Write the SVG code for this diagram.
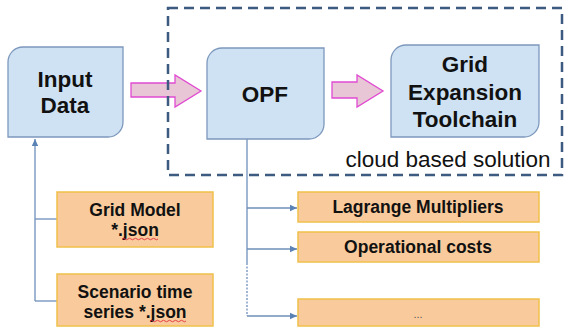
<svg xmlns="http://www.w3.org/2000/svg" width="564" height="329" viewBox="0 0 564 329">
<style>
.blue{fill:#cfe2f3;stroke:#7d98bd;stroke-width:1.3}
.orng{fill:#f9cb9c;stroke:#efc04a;stroke-width:1.5}
.big{font-family:"Liberation Sans",Arial,sans-serif;font-weight:bold;font-size:22.5px;fill:#111;text-anchor:middle}
.mid{font-family:"Liberation Sans",Arial,sans-serif;font-weight:bold;font-size:17.5px;fill:#111;text-anchor:middle}
.con{fill:none;stroke:#6f8fba;stroke-width:1.3}
.pink{fill:#e8c6d6;stroke:#e04ad2;stroke-width:1.3}
.sq{fill:none;stroke:#e0303a;stroke-width:0.9}
</style>
<defs>
<marker id="ah" markerWidth="8" markerHeight="8" refX="7" refY="4" orient="auto" markerUnits="userSpaceOnUse">
<path d="M0,0.8 L7,4 L0,7.2 Z" fill="#5b82b5"/>
</marker>
</defs>
<rect width="564" height="329" fill="#fff"/>

<g id="connectors">
<path class="con" d="M35,301 V139" marker-end="url(#ah)"/>
<path class="con" d="M35,219 H57"/>
<path class="con" d="M35,301 H57"/>
<path class="con" d="M247,139 V263"/>
<path class="con" d="M247,263 V316" stroke-dasharray="2,1.5" stroke="#9fb3cc"/>
<path class="con" d="M247,208 H297" marker-end="url(#ah)"/>
<path class="con" d="M247,249 H297" marker-end="url(#ah)"/>
<path class="con" d="M247,316 H297" marker-end="url(#ah)"/>
<polygon class="pink" points="131,83 175,83 175,75 201,91 175,107 175,97 131,97"/>
<polygon class="pink" points="332,82 357,82 357,75 383,91 357,107 357,98 332,98"/>
</g>

<g id="cloud">
<rect x="168" y="8" width="394" height="167" fill="none" stroke="#3d5a80" stroke-width="2.5" stroke-dasharray="10,6"/>
<text x="448" y="167" font-family="Liberation Sans,Arial,sans-serif" font-size="22.5" fill="#111" text-anchor="middle">cloud based solution</text>
</g>

<g id="input-data">
<path class="blue" d="M23,47 H123 V122 A15,15 0 0 1 108,137 H8 V62 A15,15 0 0 1 23,47 Z"/>
<text class="big" x="65" y="87">Input</text>
<text class="big" x="65" y="113">Data</text>
</g>

<g id="opf">
<path class="blue" d="M222,48 H324 V124 A15,15 0 0 1 309,139 H207 V63 A15,15 0 0 1 222,48 Z"/>
<text class="big" x="265" y="102">OPF</text>
</g>

<g id="toolchain">
<path class="blue" d="M406,45 H539 V122 A15,15 0 0 1 524,137 H391 V60 A15,15 0 0 1 406,45 Z"/>
<text class="big" x="465" y="72">Grid</text>
<text class="big" x="465" y="100">Expansion</text>
<text class="big" x="465" y="127">Toolchain</text>
</g>

<g id="grid-model">
<rect class="orng" x="57" y="192" width="156" height="55"/>
<text class="mid" x="135" y="216">Grid Model</text>
<text class="mid" x="135" y="236">*.json</text>
<path class="sq" d="M122,239 q1.5,-1.5 3,0 t3,0 t3,0 t3,0 t3,0 t3,0 t3,0 t3,0 t3,0 t3,0 t3,0 t3,0"/>
</g>

<g id="scenario">
<rect class="orng" x="57" y="274" width="156" height="52"/>
<text class="mid" x="135" y="298">Scenario time</text>
<text class="mid" x="135" y="318">series *.json</text>
<path class="sq" d="M150,321 q1.5,-1.5 3,0 t3,0 t3,0 t3,0 t3,0 t3,0 t3,0 t3,0 t3,0 t3,0 t3,0 t3,0"/>
</g>

<g id="lagrange">
<rect class="orng" x="298" y="192" width="241" height="30"/>
<text class="mid" x="418" y="213">Lagrange Multipliers</text>
</g>

<g id="opcosts">
<rect class="orng" x="298" y="232" width="241" height="30"/>
<text class="mid" x="418" y="253">Operational costs</text>
</g>

<g id="more">
<rect class="orng" x="298" y="299" width="241" height="27"/>
<text x="418" y="318" font-family="Liberation Sans,Arial,sans-serif" font-size="11" fill="#555" text-anchor="middle">...</text>
</g>
</svg>
